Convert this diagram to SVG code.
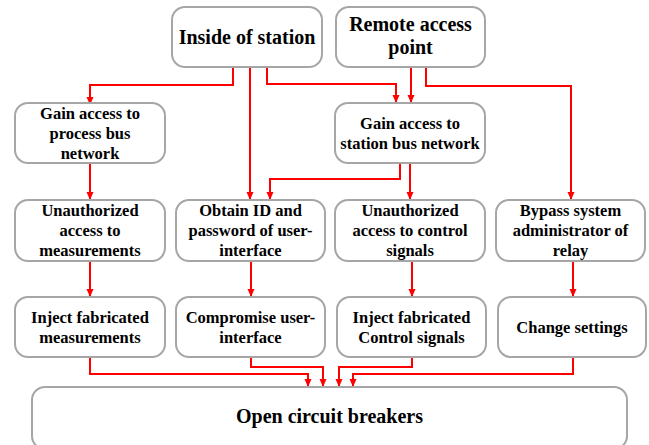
<svg xmlns="http://www.w3.org/2000/svg" width="649" height="445" viewBox="0 0 649 445">
<defs>
<marker id="ah" viewBox="0 0 8 8" refX="7" refY="4" markerWidth="8" markerHeight="8" markerUnits="userSpaceOnUse" orient="auto">
<path d="M0,0.5 L8,4 L0,7.5 Z" fill="#ff0000"/>
</marker>
<style>
.box{fill:#ffffff;stroke:#a6a6a6;stroke-width:2}
.t{font-family:'Liberation Serif','Times New Roman',serif;font-weight:bold;font-size:16.5px;fill:#000;text-anchor:middle}
.big{font-size:20px}
.c{fill:none;stroke:#ff0000;stroke-width:2;marker-end:url(#ah)}
</style>
</defs>
<rect width="649" height="445" fill="#ffffff"/>
<g id="connectors">
<polyline class="c" points="233,67 233,85 90,85 90,104"/>
<polyline class="c" points="250,67 250,199"/>
<polyline class="c" points="267,67 267,84 396,84 396,102"/>
<polyline class="c" points="411,67 411,102"/>
<polyline class="c" points="426,67 426,86 571,86 571,199"/>
<polyline class="c" points="90,163 90,199"/>
<polyline class="c" points="400,163 400,179 270,179 270,199"/>
<polyline class="c" points="410,163 410,199"/>
<polyline class="c" points="90,261 90,296"/>
<polyline class="c" points="251,261 251,296"/>
<polyline class="c" points="412,261 412,296"/>
<polyline class="c" points="573,261 573,296"/>
<polyline class="c" points="90,357 90,374 308,374 308,386"/>
<polyline class="c" points="251,357 251,367 323,367 323,386"/>
<polyline class="c" points="412,357 412,367 339,367 339,386"/>
<polyline class="c" points="573,357 573,374 353,374 353,386"/>
</g>
<g id="inside">
<rect class="box" x="172" y="7" width="150" height="60" rx="13"/>
<text class="t big" x="247" y="44">Inside of station</text>
</g>
<g id="remote">
<rect class="box" x="336" y="7" width="149" height="60" rx="13"/>
<text class="t big" x="410.5" y="31">Remote access</text>
<text class="t big" x="410.5" y="54">point</text>
</g>
<g id="processbus">
<rect class="box" x="15" y="103" width="150" height="60" rx="13"/>
<text class="t" x="90" y="119">Gain access to</text>
<text class="t" x="90" y="139">process bus</text>
<text class="t" x="90" y="159">network</text>
</g>
<g id="stationbus">
<rect class="box" x="335" y="103" width="150" height="60" rx="13"/>
<text class="t" x="410" y="129">Gain access to</text>
<text class="t" x="410" y="149">station bus network</text>
</g>
<g id="unauthmeas">
<rect class="box" x="15" y="200" width="150" height="61" rx="13"/>
<text class="t" x="90" y="216">Unauthorized</text>
<text class="t" x="90" y="236">access to</text>
<text class="t" x="90" y="256">measurements</text>
</g>
<g id="obtainid">
<rect class="box" x="176" y="200" width="149" height="61" rx="13"/>
<text class="t" x="250.5" y="216">Obtain ID and</text>
<text class="t" x="250.5" y="236">password of user-</text>
<text class="t" x="250.5" y="256">interface</text>
</g>
<g id="unauthctrl">
<rect class="box" x="335" y="200" width="150" height="61" rx="13"/>
<text class="t" x="410" y="216">Unauthorized</text>
<text class="t" x="410" y="236">access to control</text>
<text class="t" x="410" y="256">signals</text>
</g>
<g id="bypass">
<rect class="box" x="496" y="200" width="149" height="61" rx="13"/>
<text class="t" x="570.5" y="216">Bypass system</text>
<text class="t" x="570.5" y="236">administrator of</text>
<text class="t" x="570.5" y="256">relay</text>
</g>
<g id="injectmeas">
<rect class="box" x="15" y="297" width="150" height="60" rx="13"/>
<text class="t" x="90" y="323">Inject fabricated</text>
<text class="t" x="90" y="343">measurements</text>
</g>
<g id="compromise">
<rect class="box" x="176" y="297" width="149" height="60" rx="13"/>
<text class="t" x="250.5" y="323">Compromise user-</text>
<text class="t" x="250.5" y="343">interface</text>
</g>
<g id="injectctrl">
<rect class="box" x="337" y="297" width="149" height="60" rx="13"/>
<text class="t" x="411.5" y="323">Inject fabricated</text>
<text class="t" x="411.5" y="343">Control signals</text>
</g>
<g id="change">
<rect class="box" x="498" y="297" width="148" height="60" rx="13"/>
<text class="t" x="572" y="333">Change settings</text>
</g>
<g id="open">
<rect class="box" x="32" y="387" width="595" height="62" rx="13"/>
<text class="t big" x="329.5" y="423">Open circuit breakers</text>
</g>
</svg>
